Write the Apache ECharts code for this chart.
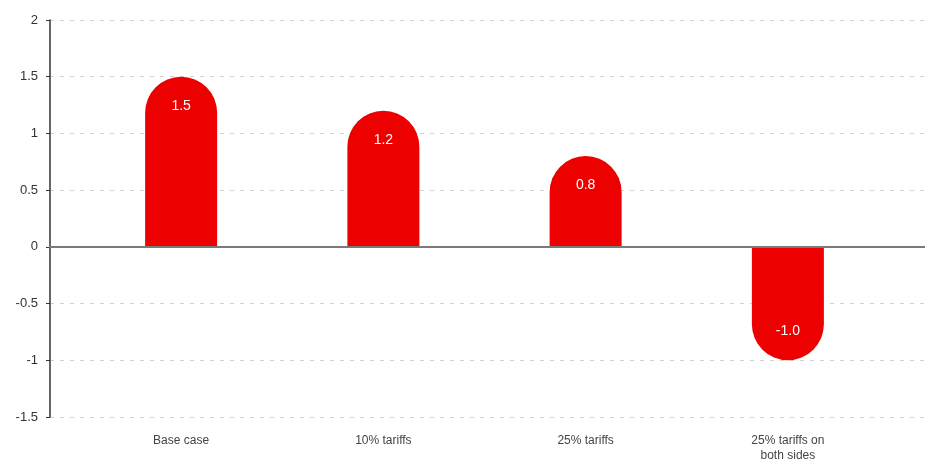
<!DOCTYPE html>
<html>
<head>
<meta charset="utf-8">
<script src="https://cdn.jsdelivr.net/npm/echarts@6/dist/echarts.min.js"></script>
<style>
html,body{margin:0;padding:0;background:#fff;}
#c{width:925px;height:466px;}
</style>
</head>
<body>
<div id="c"></div>
<script>
const categories = ['Base case', '10% tariffs', '25% tariffs', '25% tariffs on\nboth sides'];
const values = [1.5, 1.2, 0.8, -1.0];
const yMin = -1.5, yMax = 2, yStep = 0.5;

const chart = echarts.init(document.getElementById('c'));
const R = 36;
const barData = values.map(v => ({
  value: v,
  itemStyle: { borderRadius: v >= 0 ? [R, R, 0, 0] : [0, 0, R, R] },
  label: { position: v >= 0 ? 'insideTop' : 'insideBottom' }
}));
const font = '"Liberation Sans", Arial, sans-serif';
chart.setOption({
  animation: false,
  backgroundColor: '#fff',
  grid: [
    { left: 50, right: 0, top: 20, bottom: 49 },
    { left: 80, right: 36, top: 20, bottom: 49 }
  ],
  xAxis: [
    { type: 'value', gridIndex: 0, min: 0, max: 1, z: 5,
      axisLine: { show: true, onZero: true, lineStyle: { color: '#7a7a7a', width: 2 } },
      axisTick: { show: false }, axisLabel: { show: false }, splitLine: { show: false } },
    { type: 'category', gridIndex: 1, data: categories,
      axisLine: { show: false }, axisTick: { show: false },
      axisLabel: { color: '#444', fontSize: 12, fontFamily: font, margin: 16, lineHeight: 15 } }
  ],
  yAxis: [
    { type: 'value', gridIndex: 0, min: yMin, max: yMax, interval: yStep,
      axisLine: { show: true, lineStyle: { color: '#333', width: 1.5 } },
      axisTick: { show: true, length: 4, lineStyle: { color: '#333' } },
      axisLabel: { color: '#333', fontSize: 13, fontFamily: font, margin: 12 },
      splitLine: { show: true, lineStyle: { color: '#d2d2d2', type: [4, 6], width: 1 } } },
    { type: 'value', gridIndex: 1, min: yMin, max: yMax, interval: yStep, show: false,
      splitLine: { show: false } }
  ],
  series: [{
    type: 'bar',
    xAxisIndex: 1, yAxisIndex: 1,
    data: barData,
    barWidth: 72,
    itemStyle: { color: '#ec0000' },
    label: {
      show: true, color: '#fff', fontSize: 14, fontFamily: font, distance: 22,
      formatter: p => p.value.toFixed(1)
    }
  }]
});
</script>
</body>
</html>
